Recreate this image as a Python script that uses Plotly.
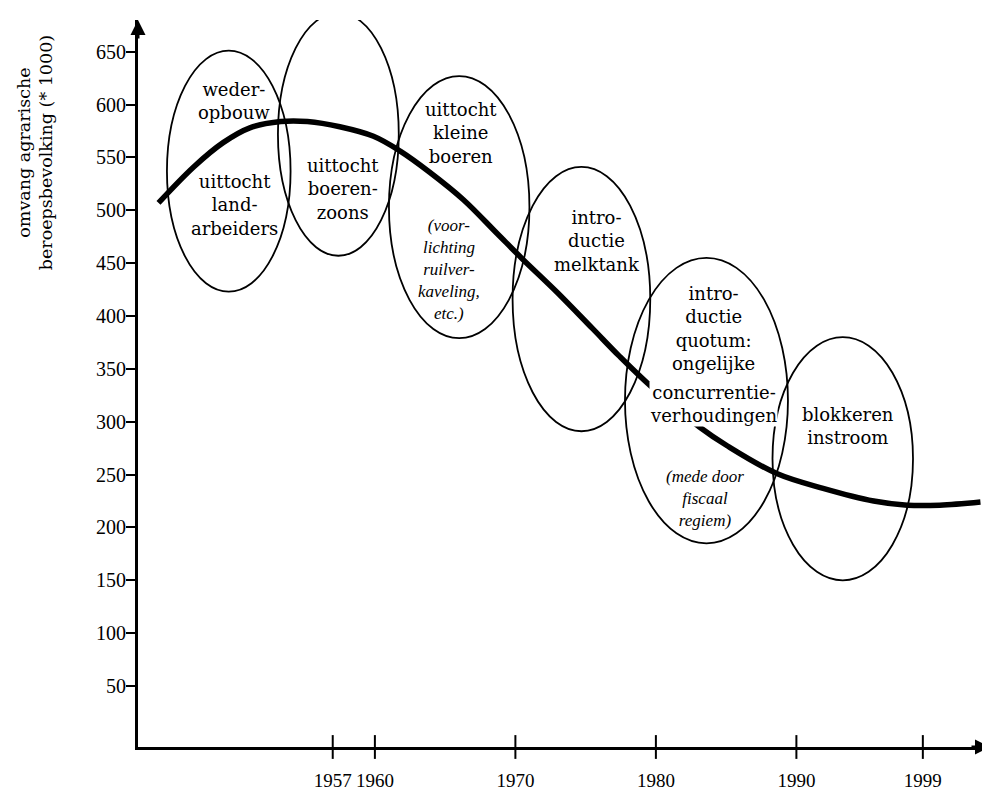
import plotly.graph_objects as go

# tick labels on the axes
tick_years = [1957, 1960, 1970, 1980, 1990, 1999]
tick_values = [50, 100, 150, 200, 250, 300, 350, 400, 450, 500, 550, 600, 650]

# agricultural working population (* 1000)
curve_year = [1944.6, 1947.1, 1949.2, 1951.1, 1953.3, 1955.2, 1957.5,
              1959.9, 1961.8, 1963.9, 1966.3, 1968.7, 1970.5, 1973.0, 1975.5,
              1977.4, 1979.6, 1983.1, 1985.1, 1988.6, 1991.9, 1995.5, 1997.9,
              2000.2, 2003.1]
curve_value = [507, 541, 564, 578, 584, 584, 579,
               570, 556, 536, 510, 478, 454, 422, 388,
               362, 334, 295, 277, 251, 237, 225, 221,
               221, 224]

# phases (ellipses): centre year, centre value, half width (yrs), half height
phase_year = [1949.6, 1957.4, 1966.0, 1974.7, 1983.6, 1993.3]
phase_value = [537, 572, 503, 416, 320, 265]
phase_half_years = [4.4, 4.3, 5.0, 4.9, 5.8, 5.0]
phase_half_value = [114, 115, 124, 125, 135, 115]

# phase texts: year, value, text, italic, masks the curve
phase_labels = [
    (1950.0, 603, "weder-<br>opbouw", False, False),
    (1950.0, 505, "uittocht<br>land-<br>arbeiders", False, False),
    (1957.7, 520, "uittocht<br>boeren-<br>zoons", False, False),
    (1966.1, 573, "uittocht<br>kleine<br>boeren", False, False),
    (1965.3, 444, "(voor-<br>lichting<br>ruilver-<br>kaveling,<br>etc.)", True, False),
    (1975.8, 471, "intro-<br>ductie<br>melktank", False, False),
    (1984.1, 388, "intro-<br>ductie<br>quotum:<br>ongelijke", False, False),
    (1984.1, 317, "concurrentie-<br>verhoudingen", False, True),
    (1983.5, 227, "(mede door<br>fiscaal<br>regiem)", True, False),
    (1993.7, 296, "blokkeren<br>instroom", False, False),
]

X_RANGE = [1943.14, 2003.78]
Y_RANGE = [-7.7, 680]

SERIF = "DejaVu Serif"
ITALIC = "Liberation Serif"

fig = go.Figure()

fig.add_trace(go.Scatter(
    x=curve_year, y=curve_value, mode="lines",
    line=dict(color="black", width=5.5, shape="spline", smoothing=1.0),
    hoverinfo="skip", showlegend=False,
))

# tick marks crossing the time axis
fig.add_trace(go.Scatter(
    x=tick_years, y=[Y_RANGE[0]] * len(tick_years), mode="markers",
    marker=dict(symbol="line-ns", size=17, line=dict(width=2, color="black")),
    cliponaxis=False, hoverinfo="skip", showlegend=False,
))

for cx, cy, hw, hh in zip(phase_year, phase_value, phase_half_years, phase_half_value):
    fig.add_shape(type="circle", xref="x", yref="y",
                  x0=cx - hw, x1=cx + hw, y0=cy - hh, y1=cy + hh,
                  line=dict(color="black", width=1.8))

for yr, val, txt, italic, mask in phase_labels:
    fig.add_annotation(
        x=yr, y=val, text=txt, showarrow=False,
        xanchor="center", yanchor="middle", align="center",
        font=dict(family=ITALIC if italic else SERIF,
                  size=17 if italic else 18, color="black",
                  style="italic" if italic else "normal"),
        bgcolor="white" if mask else None, borderpad=0,
    )

# arrow heads on the axes
fig.add_annotation(x=X_RANGE[1], y=Y_RANGE[0], ax=-20, ay=0,
                   showarrow=True, arrowhead=2, arrowsize=1, arrowwidth=3,
                   arrowcolor="black", text="")
fig.add_annotation(x=X_RANGE[0], y=Y_RANGE[1], ax=0, ay=20,
                   showarrow=True, arrowhead=2, arrowsize=1, arrowwidth=3,
                   arrowcolor="black", text="")

# y title, high up on the left
fig.add_annotation(
    xref="paper", yref="paper", x=-0.121, y=0.818,
    text="omvang agrarische<br>beroepsbevolking (* 1000)",
    textangle=-90, showarrow=False, xanchor="center", yanchor="middle",
    font=dict(family=SERIF, size=17.5, color="black"),
)

fig.update_xaxes(
    range=X_RANGE, showgrid=False, zeroline=False,
    showline=True, linecolor="black", linewidth=3,
    tickmode="array", tickvals=tick_years, ticktext=[str(y) for y in tick_years],
    ticks="", ticklabelstandoff=14,
    tickfont=dict(family="Liberation Serif", size=19, color="black"),
)
fig.update_yaxes(
    range=Y_RANGE, showgrid=False, zeroline=False,
    showline=True, linecolor="black", linewidth=3,
    tickmode="array", tickvals=tick_values,
    ticks="outside", ticklen=9, tickwidth=2, tickcolor="black",
    ticklabelstandoff=-4,
    tickfont=dict(family="Liberation Serif", size=20, color="black"),
)

# page body adds 8px on top/left, so the figure is 8px smaller
fig.update_layout(
    width=982, height=783,
    margin=dict(l=130, r=0, t=12, b=42),
    paper_bgcolor="white", plot_bgcolor="white",
    showlegend=False,
)

fig.write_html("out.html")
